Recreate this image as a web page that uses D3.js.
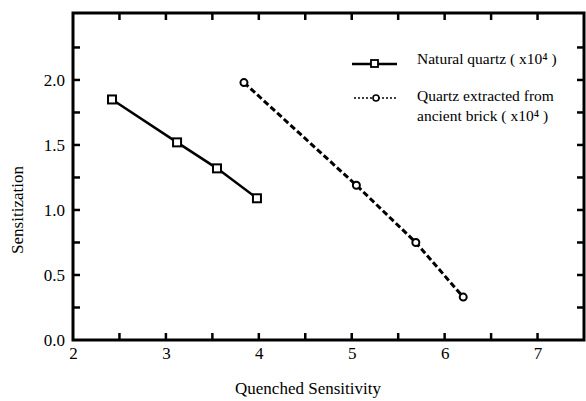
<!DOCTYPE html>
<html>
<head>
<meta charset="utf-8">
<script src="https://cdn.jsdelivr.net/npm/d3@7"></script>
<style>
  body { margin: 0; background: #fff; }
  svg text { font-family: "Liberation Serif", "Times New Roman", serif; fill: #000; }
</style>
</head>
<body>
<svg id="chart" width="586" height="401"></svg>
<script>
// data
const naturalX = [2.42, 3.12, 3.55, 3.98];
const naturalY = [1.85, 1.52, 1.32, 1.09];
const brickX = [3.84, 5.05, 5.69, 6.20];
const brickY = [1.98, 1.19, 0.75, 0.33];
const xTicks = [2, 3, 4, 5, 6, 7];
const yTicks = [0.0, 0.5, 1.0, 1.5, 2.0];
const xMinor = [2.5, 3, 3.5, 4, 4.5, 5, 5.5, 6, 6.5, 7];
const yMinor = [0.25, 0.5, 0.75, 1.0, 1.25, 1.5, 1.75, 2.0, 2.25];
const legendLabels = ["Natural quartz ( x10\u2074 )", ["Quartz extracted from", "ancient brick ( x10\u2074 )"]];

const svg = d3.select('#chart');
const plotLeft = 73, plotRight = 584, plotTop = 13, plotBottom = 340;
const tk = 7;

const x = d3.scaleLinear().domain([2, 7.5]).range([plotLeft, plotRight]);
const y = d3.scaleLinear().domain([0, 2.515]).range([plotBottom, plotTop]);

// frame
svg.append('rect')
  .attr('x', plotLeft).attr('y', plotTop)
  .attr('width', plotRight - plotLeft).attr('height', plotBottom - plotTop)
  .attr('fill', 'none').attr('stroke', '#000').attr('stroke-width', 3);

// tick labels through d3 axes
const gx = svg.append('g').attr('transform', `translate(0,${plotBottom})`)
  .call(d3.axisBottom(x).tickValues(xTicks).tickSize(0).tickPadding(7).tickFormat(d3.format('d')));
gx.select('.domain').remove();
gx.attr('font-family', null);
gx.selectAll('text').attr('font-size', 17);

const gy = svg.append('g').attr('transform', `translate(${plotLeft},0)`)
  .call(d3.axisLeft(y).tickValues(yTicks).tickSize(0).tickPadding(8).tickFormat(d3.format('.1f')));
gy.select('.domain').remove();
gy.attr('font-family', null);
gy.selectAll('text').attr('font-size', 17);

// inward tick marks on all four sides
const ticks = svg.append('g');
ticks.selectAll('.tb').data(xMinor).join('line').attr('class', 'tb')
  .attr('x1', d => x(d)).attr('x2', d => x(d))
  .attr('y1', plotBottom).attr('y2', plotBottom - tk);
ticks.selectAll('.tt').data(xMinor).join('line').attr('class', 'tt')
  .attr('x1', d => x(d)).attr('x2', d => x(d))
  .attr('y1', plotTop).attr('y2', plotTop + tk);
ticks.selectAll('.tl').data(yMinor).join('line').attr('class', 'tl')
  .attr('x1', plotLeft).attr('x2', plotLeft + tk)
  .attr('y1', d => y(d)).attr('y2', d => y(d));
ticks.selectAll('.tr').data(yMinor).join('line').attr('class', 'tr')
  .attr('x1', plotRight).attr('x2', plotRight - tk)
  .attr('y1', d => y(d)).attr('y2', d => y(d));
ticks.selectAll('line').attr('stroke', '#000').attr('stroke-width', 2.5);

// axis titles
svg.append('text').attr('x', 308).attr('y', 394).attr('text-anchor', 'middle')
  .attr('font-size', 17).text('Quenched Sensitivity');
svg.append('text').attr('transform', 'translate(23,210) rotate(-90)')
  .attr('text-anchor', 'middle').attr('font-size', 17).text('Sensitization');

const line = d3.line().x(d => x(d[0])).y(d => y(d[1]));
const natural = naturalX.map((v, i) => [v, naturalY[i]]);
const brick = brickX.map((v, i) => [v, brickY[i]]);

svg.append('path').datum(natural).attr('d', line)
  .attr('fill', 'none').attr('stroke', '#000').attr('stroke-width', 2.5);
svg.append('path').datum(brick).attr('d', line)
  .attr('fill', 'none').attr('stroke', '#000').attr('stroke-width', 3)
  .attr('stroke-dasharray', '6,3');

svg.selectAll('.sq').data(natural).join('rect').attr('class', 'sq')
  .attr('x', d => x(d[0]) - 4).attr('y', d => y(d[1]) - 4)
  .attr('width', 8).attr('height', 8)
  .attr('fill', '#fff').attr('stroke', '#000').attr('stroke-width', 2);
svg.selectAll('.ci').data(brick).join('circle').attr('class', 'ci')
  .attr('cx', d => x(d[0])).attr('cy', d => y(d[1])).attr('r', 3.5)
  .attr('fill', '#fff').attr('stroke', '#000').attr('stroke-width', 2);

// legend
const lg = svg.append('g');
lg.append('line').attr('x1', 352).attr('x2', 397).attr('y1', 64).attr('y2', 64)
  .attr('stroke', '#000').attr('stroke-width', 2.5);
lg.append('rect').attr('x', 371).attr('y', 60).attr('width', 7).attr('height', 7)
  .attr('fill', '#fff').attr('stroke', '#000').attr('stroke-width', 1.8);
lg.append('text').attr('x', 417).attr('y', 64).attr('font-size', 15.5).text(legendLabels[0]);

lg.append('line').attr('x1', 354).attr('x2', 396).attr('y1', 98).attr('y2', 98)
  .attr('stroke', '#000').attr('stroke-width', 1.6).attr('stroke-dasharray', '2,2');
lg.append('circle').attr('cx', 376).attr('cy', 98).attr('r', 3)
  .attr('fill', '#fff').attr('stroke', '#000').attr('stroke-width', 1.6);
lg.append('text').attr('x', 417).attr('y', 101).attr('font-size', 15.5).text(legendLabels[1][0]);
lg.append('text').attr('x', 417).attr('y', 121).attr('font-size', 15.5).text(legendLabels[1][1]);
</script>
</body>
</html>
